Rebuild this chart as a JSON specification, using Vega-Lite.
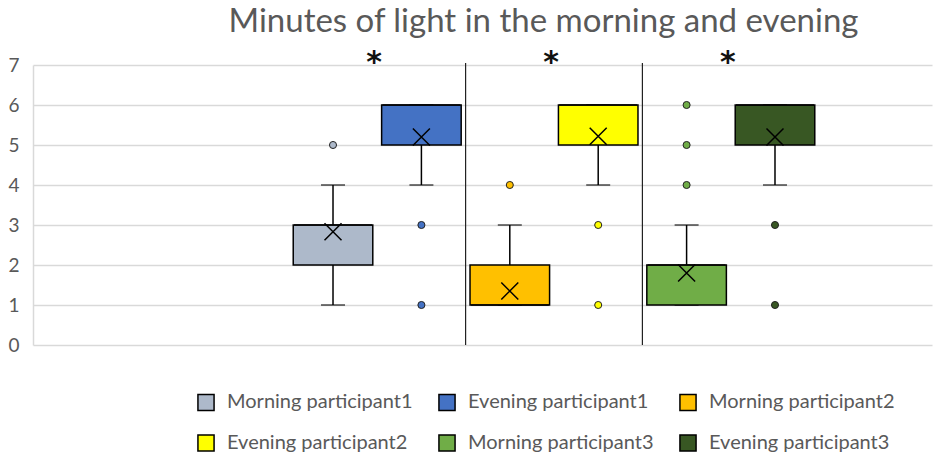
{
  "$schema": "https://vega.github.io/schema/vega-lite/v6.json",
  "autosize": {"type": "none"},
  "padding": {"left": 33, "top": 65, "right": 1, "bottom": 114},
  "width": 899,
  "height": 280,
  "background": "white",
  "config": {
    "font": "Lato",
    "view": {"stroke": null},
    "axisY": {
      "title": null,
      "tickCount": 8,
      "grid": true,
      "gridColor": "#d9d9d9",
      "gridWidth": 1.5,
      "domain": true,
      "domainColor": "#d9d9d9",
      "domainWidth": 1.5,
      "ticks": false,
      "labelFontSize": 19,
      "labelColor": "#595959",
      "labelPadding": 14,
      "labelFont": "Lato",
      "labelOverlap": false
    }
  },
  "title": {
    "text": "Minutes of light in the morning and evening",
    "fontSize": 33,
    "fontWeight": "normal",
    "color": "#595959",
    "font": "Lato",
    "anchor": "middle",
    "dx": 61,
    "offset": 9
  },
  "datasets": {
    "boxes": [
      {"series": "Morning participant1", "lo": 1, "q1": 2, "median": 3, "q3": 3, "hi": 4, "mean": 2.83},
      {"series": "Evening participant1", "lo": 4, "q1": 5, "median": 6, "q3": 6, "hi": 6, "mean": 5.2},
      {"series": "Morning participant2", "lo": 1, "q1": 1, "median": 1, "q3": 2, "hi": 3, "mean": 1.35},
      {"series": "Evening participant2", "lo": 4, "q1": 5, "median": 6, "q3": 6, "hi": 6, "mean": 5.22},
      {"series": "Morning participant3", "lo": 1, "q1": 1, "median": 2, "q3": 2, "hi": 3, "mean": 1.8},
      {"series": "Evening participant3", "lo": 4, "q1": 5, "median": 6, "q3": 6, "hi": 6, "mean": 5.2}
    ],
    "outliers": [
      {"series": "Morning participant1", "value": 5},
      {"series": "Evening participant1", "value": 3},
      {"series": "Evening participant1", "value": 1},
      {"series": "Morning participant2", "value": 4},
      {"series": "Evening participant2", "value": 3},
      {"series": "Evening participant2", "value": 1},
      {"series": "Morning participant3", "value": 6},
      {"series": "Morning participant3", "value": 5},
      {"series": "Morning participant3", "value": 4},
      {"series": "Evening participant3", "value": 3},
      {"series": "Evening participant3", "value": 1}
    ],
    "separators": [
      {"series": "Morning participant2"},
      {"series": "Morning participant3"}
    ],
    "stars": [
      {"series": "Evening participant1", "label": "*"},
      {"series": "Evening participant2", "label": "*"},
      {"series": "Evening participant3", "label": "*"}
    ]
  },
  "encoding": {
    "x": {
      "field": "series",
      "type": "nominal",
      "sort": null,
      "scale": {
        "type": "band",
        "domain": [" ", "  ", "Morning participant1", "Evening participant1", "Morning participant2", "Evening participant2", "Morning participant3", "Evening participant3", "   "],
        "paddingInner": 0,
        "paddingOuter": 0.585,
        "align": 0.764
      },
      "axis": null
    }
  },
  "layer": [
    {
      "data": {"name": "boxes"},
      "mark": {"type": "rule", "color": "black", "strokeWidth": 1.5},
      "encoding": {
        "y": {
          "field": "lo",
          "type": "quantitative",
          "scale": {"domain": [0, 7], "nice": false},
          "axis": {"values": [0, 1, 2, 3, 4, 5, 6, 7], "tickCount": 8}
        },
        "y2": {"field": "hi"}
      }
    },
    {
      "data": {"name": "boxes"},
      "mark": {"type": "tick", "color": "black", "size": 24, "thickness": 1.5},
      "encoding": {"y": {"field": "lo", "type": "quantitative", "axis": {"values": [0, 1, 2, 3, 4, 5, 6, 7], "tickCount": 8}}}
    },
    {
      "data": {"name": "boxes"},
      "mark": {"type": "tick", "color": "black", "size": 24, "thickness": 1.5},
      "encoding": {"y": {"field": "hi", "type": "quantitative", "axis": {"values": [0, 1, 2, 3, 4, 5, 6, 7], "tickCount": 8}}}
    },
    {
      "data": {"name": "boxes"},
      "mark": {"type": "bar", "stroke": "black", "strokeWidth": 1.5, "width": {"band": 0.9}},
      "encoding": {
        "y": {"field": "q1", "type": "quantitative", "axis": {"values": [0, 1, 2, 3, 4, 5, 6, 7], "tickCount": 8}},
        "y2": {"field": "q3"},
        "color": {
          "field": "series",
          "type": "nominal",
          "sort": null,
          "scale": {
            "domain": ["Morning participant1", "Evening participant1", "Morning participant2", "Evening participant2", "Morning participant3", "Evening participant3"],
            "range": ["#adb9ca", "#4472c4", "#ffc000", "#ffff00", "#70ad47", "#385723"]
          },
          "legend": {
            "title": null,
            "orient": "none",
            "legendX": 163,
            "legendY": 327,
            "direction": "horizontal",
            "columns": 3,
            "gridAlign": "all",
            "symbolType": "square",
            "symbolSize": 260,
            "symbolStrokeColor": "black",
            "symbolStrokeWidth": 1.5,
            "symbolOpacity": 1,
            "labelFontSize": 20,
            "labelColor": "#595959",
            "labelFont": "Lato",
            "labelOffset": 11,
            "labelLimit": 300,
            "columnPadding": 22,
            "rowPadding": 17
          }
        }
      }
    },
    {
      "data": {"name": "boxes"},
      "mark": {"type": "tick", "color": "black", "size": 78, "thickness": 2},
      "encoding": {"y": {"field": "median", "type": "quantitative", "axis": {"values": [0, 1, 2, 3, 4, 5, 6, 7], "tickCount": 8}}}
    },
    {
      "data": {"name": "boxes"},
      "mark": {"type": "point", "shape": "M-1,-1L1,1M1,-1L-1,1", "filled": false, "stroke": "black", "strokeWidth": 1.5, "size": 289, "opacity": 1},
      "encoding": {"y": {"field": "mean", "type": "quantitative", "axis": {"values": [0, 1, 2, 3, 4, 5, 6, 7], "tickCount": 8}}}
    },
    {
      "data": {"name": "outliers"},
      "mark": {"type": "point", "shape": "circle", "filled": true, "size": 50, "stroke": "#222222", "strokeWidth": 1, "opacity": 1},
      "encoding": {
        "y": {"field": "value", "type": "quantitative", "axis": {"values": [0, 1, 2, 3, 4, 5, 6, 7], "tickCount": 8}},
        "fill": {
          "field": "series",
          "type": "nominal",
          "scale": {
            "domain": ["Morning participant1", "Evening participant1", "Morning participant2", "Evening participant2", "Morning participant3", "Evening participant3"],
            "range": ["#adb9ca", "#4472c4", "#ffc000", "#ffff00", "#70ad47", "#385723"]
          },
          "legend": null
        }
      }
    },
    {
      "data": {"name": "separators"},
      "mark": {"type": "rule", "color": "#222222", "strokeWidth": 1.2},
      "encoding": {
        "x": {"field": "series", "type": "nominal", "bandPosition": 0},
        "y": {"datum": 0},
        "y2": {"datum": 7.05}
      }
    },
    {
      "data": {"name": "stars"},
      "mark": {"type": "text", "fontSize": 30, "fontWeight": "bold", "color": "#111111", "baseline": "middle", "font": "DejaVu Sans", "dx": -3, "dy": 6},
      "encoding": {
        "x": {"field": "series", "type": "nominal", "bandPosition": 0},
        "y": {"datum": 7.2},
        "text": {"field": "label"}
      }
    }
  ]
}
